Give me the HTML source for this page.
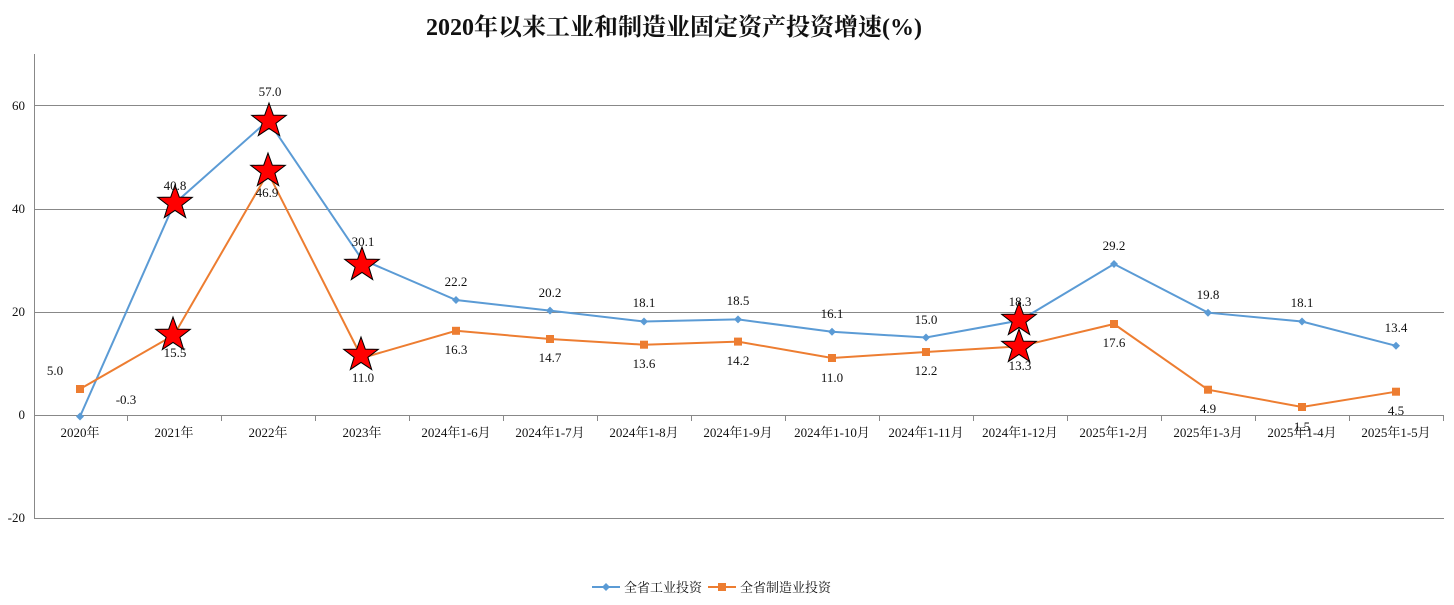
<!DOCTYPE html>
<html><head><meta charset="utf-8"><style>
body{margin:0;background:#fff}
svg text{font-family:"Liberation Serif","Noto Serif CJK SC",serif;font-size:13px;fill:#111}
</style></head><body>
<svg width="1454" height="600" viewBox="0 0 1454 600" xmlns="http://www.w3.org/2000/svg">
<defs>
<polygon id="st" points="0,-18 4.3,-5.9 17.3,-5.6 6.9,2.3 10.7,14.6 0,7.4 -10.7,14.6 -6.9,2.3 -17.3,-5.6 -4.3,-5.9" fill="#f00" stroke="#000" stroke-width="1"/>
</defs>
<text x="674" y="35" text-anchor="middle" style="font-size:24px;font-weight:bold">2020年以来工业和制造业固定资产投资增速(%)</text>
<g stroke="#888" stroke-width="1">
<line x1="34" y1="105.5" x2="1444" y2="105.5"/>
<line x1="34" y1="209.5" x2="1444" y2="209.5"/>
<line x1="34" y1="312.5" x2="1444" y2="312.5"/>
<line x1="34" y1="415.5" x2="1444" y2="415.5"/>
<line x1="34" y1="518.5" x2="1444" y2="518.5"/>
<line x1="34.5" y1="54" x2="34.5" y2="518"/>
</g>
<g stroke="#888" stroke-width="1">
<line x1="127.5" y1="415" x2="127.5" y2="421"/><line x1="221.5" y1="415" x2="221.5" y2="421"/><line x1="315.5" y1="415" x2="315.5" y2="421"/><line x1="409.5" y1="415" x2="409.5" y2="421"/><line x1="503.5" y1="415" x2="503.5" y2="421"/><line x1="597.5" y1="415" x2="597.5" y2="421"/><line x1="691.5" y1="415" x2="691.5" y2="421"/><line x1="785.5" y1="415" x2="785.5" y2="421"/><line x1="879.5" y1="415" x2="879.5" y2="421"/><line x1="973.5" y1="415" x2="973.5" y2="421"/><line x1="1067.5" y1="415" x2="1067.5" y2="421"/><line x1="1161.5" y1="415" x2="1161.5" y2="421"/><line x1="1255.5" y1="415" x2="1255.5" y2="421"/><line x1="1349.5" y1="415" x2="1349.5" y2="421"/><line x1="1443.5" y1="415" x2="1443.5" y2="421"/>
</g>
<g text-anchor="end">
<text x="25" y="110">60</text><text x="25" y="213">40</text><text x="25" y="316">20</text><text x="25" y="419">0</text><text x="25" y="522">-20</text>
</g>
<g text-anchor="middle">
<text x="80" y="437">2020年</text><text x="174" y="437">2021年</text><text x="268" y="437">2022年</text><text x="362" y="437">2023年</text><text x="456" y="437">2024年1-6月</text><text x="550" y="437">2024年1-7月</text><text x="644" y="437">2024年1-8月</text><text x="738" y="437">2024年1-9月</text><text x="832" y="437">2024年1-10月</text><text x="926" y="437">2024年1-11月</text><text x="1020" y="437">2024年1-12月</text><text x="1114" y="437">2025年1-2月</text><text x="1208" y="437">2025年1-3月</text><text x="1302" y="437">2025年1-4月</text><text x="1396" y="437">2025年1-5月</text>
</g>
<polyline fill="none" stroke="#5b9bd5" stroke-width="2" points="80,416.5 174,204 268,120.5 362,259.5 456,300 550,310.6 644,321.5 738,319.4 832,331.8 926,337.5 1020,320.4 1114,264 1208,312.7 1302,321.5 1396,345.8"/>
<polyline fill="none" stroke="#ed7d31" stroke-width="2" points="80,389 174,335 268,172.7 362,358 456,330.8 550,339 644,344.7 738,341.6 832,358 926,352 1020,346.3 1114,324 1208,389.7 1302,407 1396,391.7"/>
<g fill="#5b9bd5">
<path d="M80,412.5l4,4l-4,4l-4,-4z"/><path d="M456,296l4,4l-4,4l-4,-4z"/><path d="M550,306.6l4,4l-4,4l-4,-4z"/><path d="M644,317.5l4,4l-4,4l-4,-4z"/><path d="M738,315.4l4,4l-4,4l-4,-4z"/><path d="M832,327.8l4,4l-4,4l-4,-4z"/><path d="M926,333.5l4,4l-4,4l-4,-4z"/><path d="M1114,260l4,4l-4,4l-4,-4z"/><path d="M1208,308.7l4,4l-4,4l-4,-4z"/><path d="M1302,317.5l4,4l-4,4l-4,-4z"/><path d="M1396,341.8l4,4l-4,4l-4,-4z"/>
</g>
<g fill="#ed7d31">
<rect x="76" y="385" width="8" height="8"/><rect x="452" y="326.8" width="8" height="8"/><rect x="546" y="335" width="8" height="8"/><rect x="640" y="340.7" width="8" height="8"/><rect x="734" y="337.6" width="8" height="8"/><rect x="828" y="354" width="8" height="8"/><rect x="922" y="348" width="8" height="8"/><rect x="1110" y="320" width="8" height="8"/><rect x="1204" y="385.7" width="8" height="8"/><rect x="1298" y="403" width="8" height="8"/><rect x="1392" y="387.7" width="8" height="8"/>
</g>
<use href="#st" x="175" y="203"/><use href="#st" x="269" y="121"/><use href="#st" x="362" y="265"/><use href="#st" x="1019" y="320"/>
<use href="#st" x="173" y="335"/><use href="#st" x="268" y="171"/><use href="#st" x="361" y="355"/><use href="#st" x="1019" y="347"/>
<g text-anchor="middle">
<text x="270" y="96">57.0</text><text x="175" y="190">40.8</text><text x="363" y="246">30.1</text><text x="456" y="286">22.2</text><text x="550" y="297">20.2</text><text x="644" y="307">18.1</text><text x="738" y="305">18.5</text><text x="832" y="318">16.1</text><text x="926" y="324">15.0</text><text x="1020" y="306">18.3</text><text x="1114" y="250">29.2</text><text x="1208" y="299">19.8</text><text x="1302" y="307">18.1</text><text x="1396" y="332">13.4</text>
<text x="126" y="404">-0.3</text>
<text x="55" y="375">5.0</text><text x="175" y="357">15.5</text><text x="267" y="197">46.9</text><text x="363" y="382">11.0</text><text x="456" y="354">16.3</text><text x="550" y="362">14.7</text><text x="644" y="368">13.6</text><text x="738" y="365">14.2</text><text x="832" y="382">11.0</text><text x="926" y="375">12.2</text><text x="1020" y="370">13.3</text><text x="1114" y="347">17.6</text><text x="1208" y="413">4.9</text><text x="1302" y="431">1.5</text><text x="1396" y="415">4.5</text>
</g>
<line x1="592" y1="587" x2="620" y2="587" stroke="#5b9bd5" stroke-width="2"/><path d="M606,583l4,4l-4,4l-4,-4z" fill="#5b9bd5"/>
<text x="624" y="592">全省工业投资</text>
<line x1="708" y1="587" x2="736" y2="587" stroke="#ed7d31" stroke-width="2"/><rect x="718" y="583" width="8" height="8" fill="#ed7d31"/>
<text x="740" y="592">全省制造业投资</text>
</svg>
</body></html>
